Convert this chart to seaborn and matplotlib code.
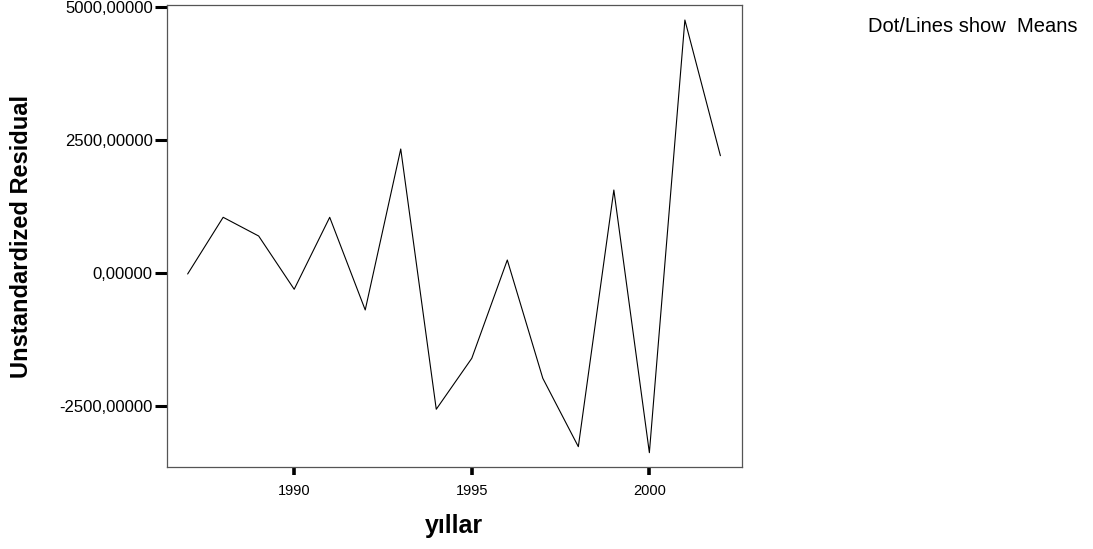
import pandas as pd
import matplotlib.pyplot as plt
import seaborn as sns

sns.set_style("white")
plt.rcParams['font.family'] = ['Liberation Sans', 'DejaVu Sans']
plt.rcParams.update({'text.color': 'black', 'axes.labelcolor': 'black',
                     'xtick.color': 'black', 'ytick.color': 'black'})

years = list(range(1987, 2003))
residuals = [-19, 1047, 695, -306, 1047, -695, 2331, -2562,
             -1604, 244, -1980, -3265, 1560, -3378, 4756, 2205]
y_ticks = [-2500, 0, 2500, 5000]
x_ticks = [1990, 1995, 2000]

df = pd.DataFrame({'yillar': years, 'resid': residuals})

fig = plt.figure(figsize=(10.93, 5.49), dpi=100)
ax = fig.add_axes([0.1525, 0.1494, 0.5261, 0.8409])

sns.lineplot(data=df, x='yillar', y='resid', color='black', linewidth=0.8, ax=ax)

ax.set_xlim(1986.41, 2002.60)
ax.set_ylim(-3647, 5032)
ax.set_xticks(x_ticks)
ax.set_yticks(y_ticks)
ax.set_yticklabels([f"{v:.5f}".replace('.', ',') for v in y_ticks], fontsize=12)
ax.set_xticklabels([str(v) for v in x_ticks], fontsize=10.5)
ax.tick_params(axis='y', direction='out', length=8.5, width=2.2, pad=1.5, left=True)
ax.tick_params(axis='x', direction='out', length=6, width=2.6, pad=6, bottom=True)

for s in ax.spines.values():
    s.set_color('#555555')
    s.set_linewidth(0.9)

ax.set_xlabel('yıllar', fontsize=18, fontweight='bold', labelpad=12)
ax.set_ylabel('Unstandardized Residual', fontsize=17, fontweight='bold')
ax.yaxis.set_label_coords(-0.2325, 0.5)

fig.text(0.794, 0.942, 'Dot/Lines show  Means', fontsize=14.5, ha='left', va='baseline')

fig.savefig('out.png', dpi=100)
